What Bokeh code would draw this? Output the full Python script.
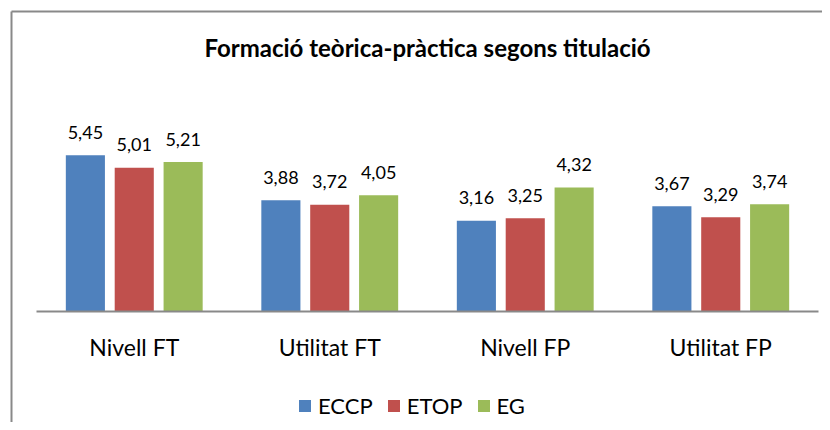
from bokeh.plotting import figure
from bokeh.models import Range1d, LinearAxis, FixedTicker, Legend, LegendItem
from bokeh.core.properties import value
from bokeh.embed import file_html
from bokeh.resources import INLINE

title = "Formació teòrica-pràctica segons titulació"
categories = ["Nivell FT", "Utilitat FT", "Nivell FP", "Utilitat FP"]
series = ["ECCP", "ETOP", "EG"]
eccp = [5.45, 3.88, 3.16, 3.67]
etop = [5.01, 3.72, 3.25, 3.29]
eg = [5.21, 4.05, 4.32, 3.74]
values = [eccp, etop, eg]
colors = ["#4F81BD", "#C0504D", "#9BBB59"]

FONT = "Lato"
GRAY = "#898989"
W, H = 822, 422
PX_CAT = 195.5
PX_UNIT = 28.68
n = len(categories)

p = figure(width=W, height=H, output_backend="svg", toolbar_location=None,
           x_range=Range1d(-25 / PX_CAT, n + 4 / PX_CAT),
           y_range=Range1d(-111 / PX_UNIT, 300 / PX_UNIT),
           x_axis_location=None, y_axis_location=None,
           min_border_left=11, min_border_top=11, min_border_right=0, min_border_bottom=0)
p.outline_line_color = None
p.background_fill_color = "white"
p.border_fill_color = "white"
p.xgrid.visible = False
p.ygrid.visible = False

for loc in ("left", "above"):
    ax = LinearAxis(ticker=FixedTicker(ticks=[]), axis_line_color=GRAY, axis_line_width=2,
                    major_tick_out=0, major_tick_in=0, minor_tick_out=0, minor_tick_in=0,
                    major_label_standoff=0)
    p.add_layout(ax, loc)

renderers = []
for j, (s, vals, c) in enumerate(zip(series, values, colors)):
    xs = [i + 0.5 + (j - 1) * 0.25 for i in range(n)]
    r = p.vbar(x=xs, top=vals, bottom=0, width=0.2, fill_color=c, line_color=None)
    renderers.append(r)
    p.text(x=xs, y=vals, text=[f"{v:.2f}".replace(".", ",") for v in vals],
           text_align="center", text_baseline="alphabetic", y_offset=-23,
           text_font=value(FONT), text_font_size="18px", text_color="#000000")

p.segment(x0=[0], y0=[0], x1=[n], y1=[0], line_color=GRAY, line_width=2)

p.text(x=[i + 0.5 for i in range(n)], y=[0] * n, text=categories,
       text_align="center", text_baseline="alphabetic", y_offset=35,
       text_font=value(FONT), text_font_size="23px", text_color="#000000")

p.text(x=[n / 2], y=[0], text=[title], text_align="center", text_baseline="alphabetic",
       y_offset=-264, text_font=value(FONT), text_font_size="24px",
       text_font_style="bold", text_color="#000000")

legend = Legend(items=[LegendItem(label=s, renderers=[r]) for s, r in zip(series, renderers)],
                orientation="horizontal", location=(286, 3), padding=0, spacing=13,
                label_standoff=6, glyph_width=15, glyph_height=15,
                border_line_color=None, background_fill_alpha=0,
                label_text_font=FONT, label_text_font_size="22px", label_text_color="#000000")
p.add_layout(legend)

open("out.html", "w").write(file_html(p, INLINE))
